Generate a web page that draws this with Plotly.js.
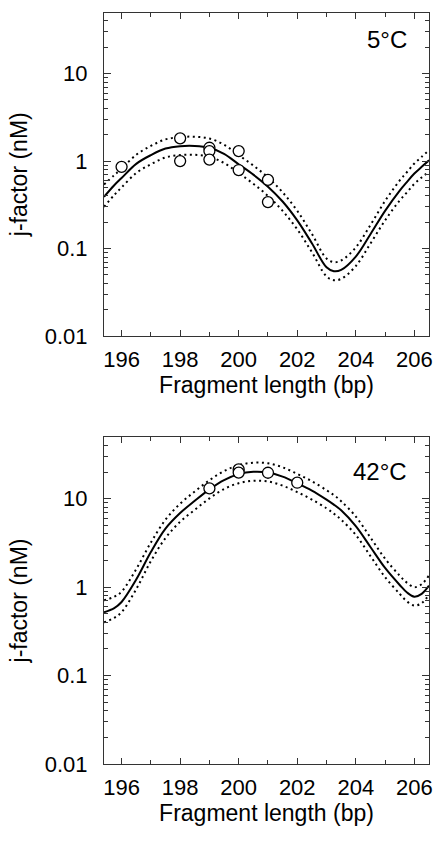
<!DOCTYPE html>
<html>
<head>
<meta charset="utf-8">
<script src="https://cdn.plot.ly/plotly-3.0.1.min.js"></script>
<style>html,body{margin:0;padding:0;background:#fff;}#chart{width:437px;height:841px;}</style>
</head>
<body>
<div id="chart"></div>
<script>
// Fragment lengths (bp) at which the fitted curves are read
var fitLength = [195.4, 195.75, 196, 196.5, 197, 197.5, 198, 198.5, 199, 199.5, 200, 200.5, 201, 201.5, 202, 202.5, 203, 203.25, 203.5, 204, 204.5, 205, 205.5, 205.75, 206, 206.25, 206.5];

// 5 °C panel
var fit5 = [0.39, 0.53, 0.64, 0.93, 1.17, 1.39, 1.48, 1.49, 1.42, 1.21, 0.92, 0.70, 0.51, 0.345, 0.21, 0.115, 0.061, 0.055, 0.057, 0.081, 0.146, 0.27, 0.46, 0.58, 0.72, 0.86, 1.02];
var upper5 = [0.54, 0.69, 0.82, 1.18, 1.49, 1.77, 1.88, 1.90, 1.81, 1.54, 1.17, 0.89, 0.65, 0.44, 0.27, 0.147, 0.077, 0.070, 0.073, 0.103, 0.186, 0.35, 0.60, 0.75, 0.94, 1.12, 1.33];
var lower5 = [0.30, 0.41, 0.50, 0.73, 0.92, 1.10, 1.17, 1.18, 1.12, 0.95, 0.73, 0.55, 0.40, 0.27, 0.166, 0.091, 0.048, 0.0435, 0.045, 0.063, 0.114, 0.21, 0.355, 0.44, 0.55, 0.65, 0.76];
var points5Length = [196, 198, 198, 199, 199, 199, 200, 200, 201, 201];
var points5J = [0.86, 1.82, 1.00, 1.42, 1.30, 1.04, 1.30, 0.79, 0.61, 0.34];

// 42 °C panel
var fit42 = [0.52, 0.58, 0.68, 1.22, 2.5, 4.6, 6.9, 9.5, 12.8, 16.3, 19.0, 20.2, 19.8, 17.8, 15.0, 12.4, 9.8, 8.6, 7.4, 4.9, 2.85, 1.65, 1.06, 0.87, 0.78, 0.84, 1.04];
var upper42 = [0.71, 0.78, 0.89, 1.6, 3.2, 5.8, 8.8, 12.1, 16.2, 20.6, 24.0, 25.6, 25.2, 22.7, 19.1, 15.8, 12.5, 11.0, 9.4, 6.3, 3.65, 2.1, 1.35, 1.12, 1.0, 1.08, 1.36];
var lower42 = [0.40, 0.45, 0.52, 0.95, 1.97, 3.6, 5.5, 7.5, 10.1, 12.9, 15.0, 16.0, 15.7, 14.1, 11.9, 9.8, 7.8, 6.8, 5.8, 3.9, 2.25, 1.3, 0.84, 0.69, 0.62, 0.66, 0.82];
var points42Length = [199, 200, 200, 201, 202];
var points42J = [13.1, 21.5, 19.8, 19.7, 15.2];

var panelLabels = ['5°C', '42°C'];
var xTitle = 'Fragment length (bp)';
var yTitle = 'j-factor (nM)';

var solid = {color: '#000', width: 2, shape: 'spline', smoothing: 1};
var dotted = {color: '#000', width: 2, dash: '2px,3.5px', shape: 'spline', smoothing: 1};
var marker = {symbol: 'circle', size: 11, color: '#fff', line: {color: '#000', width: 1.3}};

function panel(xa, ya, fit, up, lo, px, py) {
  return [
    {x: fitLength, y: up, xaxis: xa, yaxis: ya, mode: 'lines', line: dotted, hoverinfo: 'skip'},
    {x: fitLength, y: lo, xaxis: xa, yaxis: ya, mode: 'lines', line: dotted, hoverinfo: 'skip'},
    {x: fitLength, y: fit, xaxis: xa, yaxis: ya, mode: 'lines', line: solid},
    {x: px, y: py, xaxis: xa, yaxis: ya, mode: 'markers', marker: marker, cliponaxis: false}
  ];
}

var data = panel('x', 'y', fit5, upper5, lower5, points5Length, points5J)
  .concat(panel('x2', 'y2', fit42, upper42, lower42, points42Length, points42J));

var H = 841, W = 437;
var fontFam = '"Liberation Sans", Arial, sans-serif';

function xax(anchor) {
  return {
    domain: [104 / W, 429 / W], anchor: anchor, range: [195.4, 206.5],
    tick0: 196, dtick: 2, ticks: 'inside', ticklen: 6, tickwidth: 1, tickcolor: '#333',
    minor: {dtick: 1, ticks: 'inside', ticklen: 4, tickwidth: 1, tickcolor: '#333', showgrid: false},
    showline: true, linecolor: '#333', linewidth: 1, mirror: 'allticks',
    showgrid: false, zeroline: false, ticklabelstandoff: 4,
    tickfont: {family: fontFam, size: 22, color: '#000'},
    title: {text: xTitle, font: {family: fontFam, size: 23, color: '#000'}, standoff: 3}
  };
}
function yax(dom, anchor) {
  return {
    domain: dom, anchor: anchor, type: 'log', range: [-2, Math.log10(50)],
    dtick: 1, ticks: 'inside', ticklen: 7, tickwidth: 1, tickcolor: '#333',
    minor: {dtick: 'D1', ticks: 'inside', ticklen: 4, tickwidth: 1, tickcolor: '#333', showgrid: false},
    showline: true, linecolor: '#333', linewidth: 1, mirror: 'allticks',
    showgrid: false, zeroline: false, ticklabelstandoff: 11,
    tickfont: {family: fontFam, size: 22, color: '#000'},
    title: {text: yTitle, font: {family: fontFam, size: 23, color: '#000'}, standoff: 10}
  };
}

var layout = {
  width: W, height: H,
  margin: {l: 0, r: 0, t: 0, b: 0},
  paper_bgcolor: '#fff', plot_bgcolor: '#fff',
  showlegend: false,
  font: {family: fontFam, size: 22, color: '#000'},
  xaxis: xax('y'),
  yaxis: yax([(H - 336) / H, (H - 12.5) / H], 'x'),
  xaxis2: xax('y2'),
  yaxis2: yax([(H - 764) / H, (H - 437) / H], 'x2'),
  annotations: [
    {text: panelLabels[0], xref: 'paper', yref: 'paper', x: 409 / W, y: (H - 40) / H, xanchor: 'right', yanchor: 'middle', showarrow: false, font: {family: fontFam, size: 24, color: '#000'}},
    {text: panelLabels[1], xref: 'paper', yref: 'paper', x: 409 / W, y: (H - 471) / H, xanchor: 'right', yanchor: 'middle', showarrow: false, font: {family: fontFam, size: 24, color: '#000'}}
  ]
};

Plotly.newPlot('chart', data, layout, {staticPlot: true, displayModeBar: false});
</script>
</body>
</html>
